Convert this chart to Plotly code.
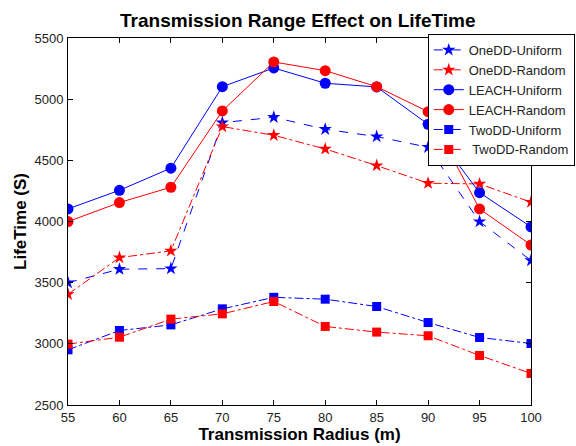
import plotly.graph_objects as go

radius = [55, 60, 65, 70, 75, 80, 85, 90, 95, 100]
onedd_uniform = [3500, 3610, 3615, 4808, 4852, 4754, 4694, 4607, 3999, 3681]
onedd_random = [3405, 3705, 3760, 4776, 4705, 4593, 4457, 4313, 4307, 4158]
leach_uniform = [4103, 4255, 4436, 5102, 5255, 5130, 5100, 4795, 4236, 3956]
leach_random = [3999, 4155, 4280, 4904, 5304, 5233, 5102, 4898, 4103, 3808]
twodd_uniform = [2951, 3109, 3155, 3286, 3380, 3365, 3305, 3174, 3052, 3003]
twodd_random = [2998, 3054, 3202, 3245, 3346, 3142, 3096, 3066, 2905, 2758]

series = [
    ("OneDD-Uniform", onedd_uniform, "#0000FF", "star", "dash", 10),
    ("OneDD-Random", onedd_random, "#FF0000", "star", "dashdot", 10),
    ("LEACH-Uniform", leach_uniform, "#0000FF", "circle", "solid", 11),
    ("LEACH-Random", leach_random, "#FF0000", "circle", "solid", 11),
    ("TwoDD-Uniform", twodd_uniform, "#0000FF", "square", "dashdot", 9),
    (" TwoDD-Random", twodd_random, "#FF0000", "square", "dashdot", 9),
]

fig = go.Figure()
for name, vals, color, sym, dash, size in series:
    fig.add_trace(go.Scatter(
        x=radius, y=vals, name=name, mode="lines+markers",
        line=dict(color=color, width=1, dash=dash),
        marker=dict(symbol=sym, size=size, color=color),
    ))

axis_common = dict(
    showline=True, linecolor="black", linewidth=1, mirror="ticks",
    ticks="inside", ticklen=5, tickcolor="black", showgrid=False,
    zeroline=False, tickfont=dict(family="Liberation Sans, Arial", size=13, color="#222"),
)

fig.update_layout(
    width=576, height=446,
    margin=dict(l=68, r=45, t=38, b=41, autoexpand=False),
    paper_bgcolor="white", plot_bgcolor="white",
    title=dict(text="<b>Transmission Range Effect on LifeTime</b>", x=0.517, xanchor="center",
               y=0.955, yanchor="middle",
               font=dict(family="Liberation Sans, Arial", size=19, color="black")),
    xaxis=dict(range=[55, 100], tickvals=list(range(55, 101, 5)),
               title=dict(text="<b>Transmission Radius (m)</b>", standoff=3,
                          font=dict(family="Liberation Sans, Arial", size=17, color="black")),
               **axis_common),
    yaxis=dict(range=[2500, 5500], tickvals=list(range(2500, 5501, 500)),
               title=dict(text="<b>LifeTime (S)</b>", standoff=3,
                          font=dict(family="Liberation Sans, Arial", size=17, color="black")),
               ticklabelstandoff=1,
               **axis_common),
    legend=dict(x=0.777, y=1.011, xanchor="left", yanchor="top",
                bgcolor="white", bordercolor="black", borderwidth=1,
                font=dict(family="Liberation Sans, Arial", size=13, color="#222"),
                tracegroupgap=0, itemwidth=30),
    showlegend=True,
)

fig.write_html("out.html")
